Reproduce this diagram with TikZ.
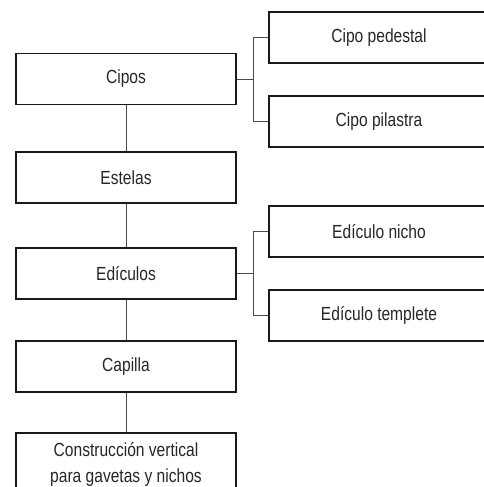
\documentclass[tikz,border=0pt]{standalone}
\usepackage{fontspec}
\setmainfont{Liberation Sans}[FakeStretch=0.82]
\usetikzlibrary{positioning}

\begin{document}
\begin{tikzpicture}[
  x=1pt, y=-1pt,
  font=\fontsize{19}{26}\selectfont,
  box/.style={
    draw=black!90,
    line width=1.8pt,
    minimum width=220pt,
    minimum height=51pt,
    inner sep=0pt,
    text=black!85
  },
  link/.style={
    line width=0.9pt,
    draw=black!70
  }
]
  \useasboundingbox (0,0) rectangle (484,487);
  \clip (0,0) rectangle (484,487);

  % main column
  \node[box] (cipos) at (126,79) {Cipos};
  \node[box] (estelas) at (126,177.5) {Estelas};
  \node[box] (ediculos) at (126,273.5) {Edículos};
  \node[box] (capilla) at (126,366.5) {Capilla};
  \node[box, anchor=north, minimum height=0pt, inner ysep=10pt, align=center]
    (vertical) at (126,432) {Construcción vertical\\para gavetas y nichos};

  % sub types
  \node[box] (pedestal) at (379,37.5) {Cipo pedestal};
  \node[box] (pilastra) at (379,121.5) {Cipo pilastra};
  \node[box] (nicho) at (379,231.5) {Edículo nicho};
  \node[box] (templete) at (379,315.5) {Edículo templete};

  \draw[link] (cipos) -- (estelas);
  \draw[link] (estelas) -- (ediculos);
  \draw[link] (ediculos) -- (capilla);
  \draw[link] (capilla) -- (vertical);

  \coordinate (cipos-fork) at ([xshift=17pt]cipos.east);
  \coordinate (ediculos-fork) at ([xshift=17pt]ediculos.east);
  \draw[link] (cipos.east) -- (cipos-fork);
  \draw[link] (pedestal.west) -| (cipos-fork) |- (pilastra.west);
  \draw[link] (ediculos.east) -- (ediculos-fork);
  \draw[link] (nicho.west) -| (ediculos-fork) |- (templete.west);
\end{tikzpicture}
\end{document}
